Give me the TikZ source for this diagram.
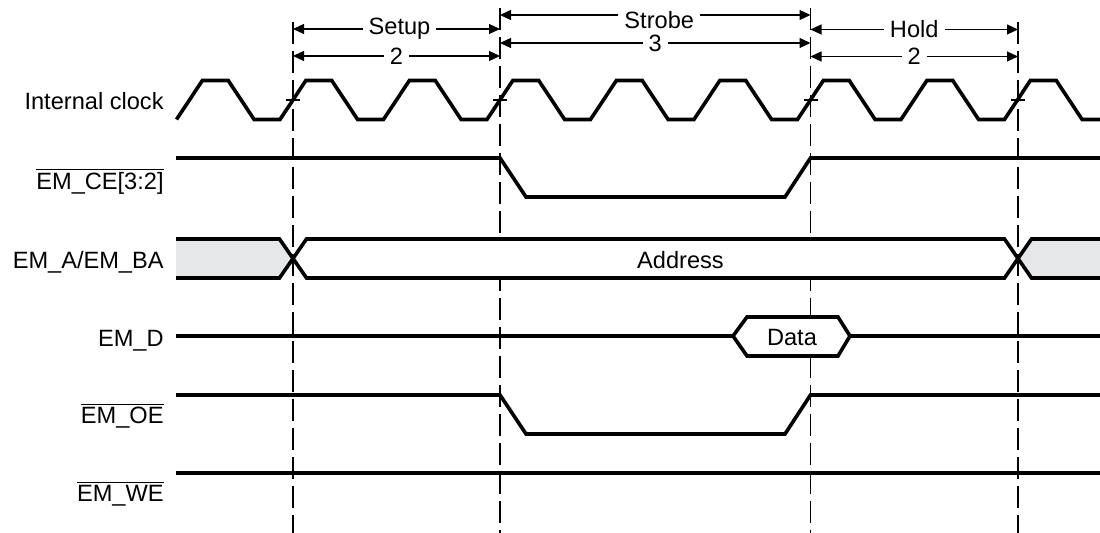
\documentclass[tikz,border=0pt]{standalone}
\usepackage{fontspec}
\setmainfont{Liberation Sans}
\usetikzlibrary{arrows.meta}
\definecolor{busgray}{RGB}{230,231,232}
\newcommand{\negsig}[1]{$\overline{\mbox{#1}}$}
\tikzset{
  sig/.style={line width=1.8pt},
  cutline/.style={line width=0.6pt,dash pattern=on 11pt off 3.5pt},
  dim/.style={line width=0.6pt,{Triangle[length=5.5pt,width=5pt]}-{Triangle[length=5.5pt,width=5pt]}},
  dimlbl/.style={fill=white,inner xsep=3pt,inner ysep=1.5pt},
  siglbl/.style={anchor=base east,inner sep=0pt}
}
\begin{document}
\begin{tikzpicture}[x=0.5pt,y=-0.5pt,font=\fontsize{11.8}{14}\selectfont]
\useasboundingbox (0,0) rectangle (1100,533);

% cycle boundaries
\foreach \n/\x/\t in {1/293/22,2/500/8,3/810.5/8,4/1018/22} {
  \coordinate (top\n) at (\x,\t);
  \coordinate (bot\n) at (\x,533);
  \draw[cutline] (top\n) -- (bot\n);
  \draw[line width=0.6pt] (\x-7,100) -- (\x+7,100);
}

% setup / strobe / hold
\coordinate (su1) at (293,29);    \coordinate (su2) at (500,29);
\coordinate (sn1) at (293,56);    \coordinate (sn2) at (500,56);
\coordinate (st1) at (500,15);    \coordinate (st2) at (810.5,15);
\coordinate (sm1) at (500,43);    \coordinate (sm2) at (810.5,43);
\coordinate (ho1) at (810.5,29.5); \coordinate (ho2) at (1018,29.5);
\coordinate (hn1) at (810.5,56.5); \coordinate (hn2) at (1018,56.5);
\draw[dim] (su1) -- (su2) node[midway,dimlbl,xshift=1.5pt] {Setup};
\draw[dim] (sn1) -- (sn2) node[midway,dimlbl] {2};
\draw[dim] (st1) -- (st2) node[midway,dimlbl,xshift=2pt,yshift=-2.5pt] {Strobe};
\draw[dim] (sm1) -- (sm2) node[midway,dimlbl] {3};
\draw[dim] (ho1) -- (ho2) node[midway,dimlbl] {Hold};
\draw[dim] (hn1) -- (hn2) node[midway,dimlbl] {2};

% signal names
\node[siglbl] (clk) at (164,110) {Internal clock};
\node[siglbl] (ce) at (164,189.5) {\negsig{EM\_CE[3:2]}};
\node[siglbl] (ab) at (164,268.3) {EM\_A/EM\_BA};
\node[siglbl] (d) at (164,346.7) {EM\_D};
\node[siglbl] (oe) at (164,424) {\negsig{EM\_OE}};
\node[siglbl] (we) at (164,501.7) {\negsig{EM\_WE}};

% clock
\begin{scope}
\clip (0,0) rectangle (1100,533);
\draw[sig] (176.5,119.5) \foreach \k in {0,...,8} {
  -- ++(25.875,-39) -- ++(25.875,0) -- ++(25.875,39) -- ++(25.875,0)};
\end{scope}

% chip enable
\draw[sig] (176,158) -- (500,158) -- (526,197) -- (785,197) -- (810.5,158) -- (1100,158);

% address bus
\fill[busgray] (176,239) -- (279.5,239) -- (293,258.5) -- (279.5,278) -- (176,278) -- cycle;
\fill[white] (293,258.5) -- (306.5,239) -- (1004.5,239) -- (1018,258.5) -- (1004.5,278) -- (306.5,278) -- cycle;
\fill[busgray] (1100,239) -- (1031.5,239) -- (1018,258.5) -- (1031.5,278) -- (1100,278) -- cycle;
\draw[sig] (176,239) -- (279.5,239) -- (306.5,278) -- (1004.5,278) -- (1031.5,239) -- (1100,239);
\draw[sig] (176,278) -- (279.5,278) -- (306.5,239) -- (1004.5,239) -- (1031.5,278) -- (1100,278);
\node (addr) at (680.5,260) {Address};

% data
\draw[sig] (176,336) -- (733,336);
\draw[sig] (850,336) -- (1100,336);
\draw[sig,fill=white] (733,336) -- (747,317) -- (838,317) -- (850,336) -- (838,356) -- (747,356) -- cycle;
\node (data) at (792,338) {Data};

% output enable, write enable
\draw[sig] (176,395) -- (500,395) -- (526,434) -- (785,434) -- (810.5,395) -- (1100,395);
\draw[sig] (176,473) -- (1100,473);

\end{tikzpicture}
\end{document}
